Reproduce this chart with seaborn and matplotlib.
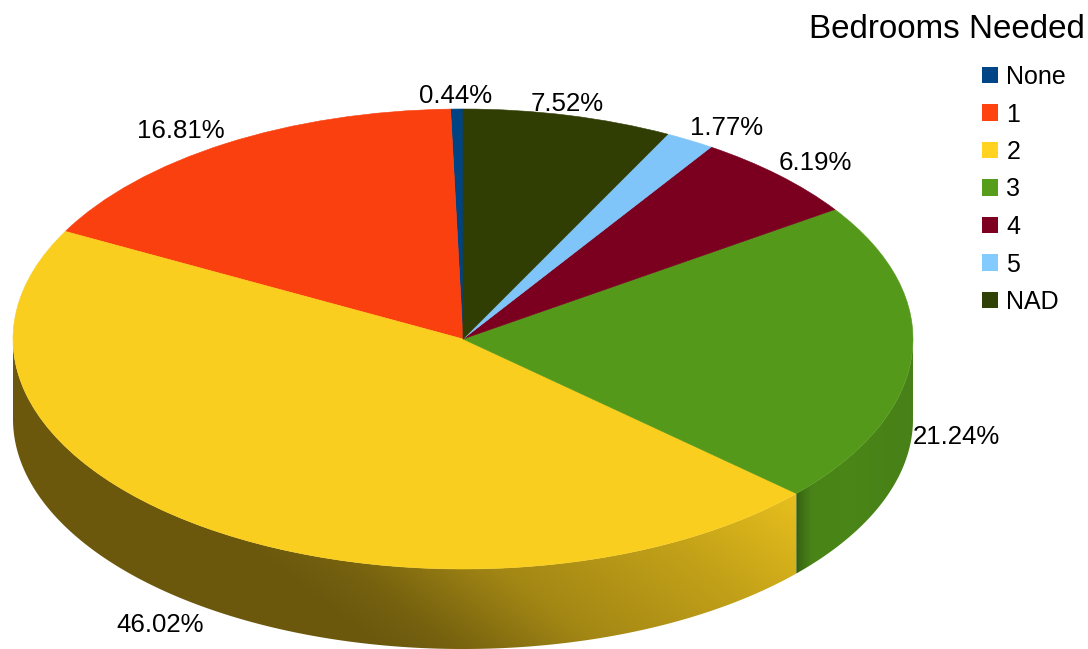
import numpy as np
import matplotlib
matplotlib.use("Agg")
import matplotlib.pyplot as plt
from matplotlib.patches import Patch, Polygon
import seaborn as sns

categories = ["None", "1", "2", "3", "4", "5", "NAD"]
shares = [0.44, 16.81, 46.02, 21.24, 6.19, 1.77, 7.52]
colors = ["#004586", "#ff420e", "#ffd320", "#579d1c", "#7e0021", "#83caff", "#314004"]
title = "Bedrooms Needed"

# pixel layout of the picture
W, H = 1088, 649
cx, cy = 463, 339
rx, ry = 450, 230
depth = 80

# label centres in pixels, same order as categories
label_pos = [(456, 96), (181, 131), (160, 625), (956, 437), (815, 163), (727, 128), (567, 104)]

sns.set_theme(style="white")
plt.rcParams["font.family"] = ["Liberation Sans", "DejaVu Sans"]
palette = sns.color_palette(colors)

fig = plt.figure(figsize=(W / 100, H / 100), dpi=100)
ax = fig.add_axes([0, 0, 1, 1])

top_colors = [tuple(c * 0.975 for c in col) for col in palette]
wedges, _ = ax.pie(shares, colors=top_colors, startangle=90, counterclock=True,
                   radius=1, center=(0, 0))
for w in wedges:
    w.set_edgecolor(w.get_facecolor())
    w.set_linewidth(0.4)
    w.set_zorder(3)

ax.set_aspect("auto")
xlim = (-cx / rx, (W - cx) / rx)
ylim = ((cy - H) / ry, cy / ry)

# pixel grid for the shading of the side wall
px, py = np.meshgrid(np.arange(W) + 0.5, np.arange(H) + 0.5)


def yellow_shade(x, y):
    g = x - 1.3 * (y - 530)
    return np.interp(g, [230, 300, 450, 650, 835], [0.42, 0.46, 0.64, 0.76, 0.90])


def green_shade(x, y):
    return np.interp(x, [796, 800, 812, 850, 913], [0.58, 0.68, 0.84, 0.85, 0.82])


shades = {2: yellow_shade, 3: green_shade}

for i, shade in shades.items():
    t1 = max(wedges[i].theta1, 180)
    t2 = min(wedges[i].theta2, 360)
    ang = np.radians(np.linspace(t1, t2, 300))
    top = np.column_stack([np.cos(ang), np.sin(ang)])
    bottom = top - [0, depth / ry]
    wall = Polygon(np.vstack([top, bottom[::-1]]), closed=True, transform=ax.transData,
                   facecolor="none", edgecolor="none")
    ax.add_patch(wall)
    rgb = np.clip(shade(px, py)[..., None] * np.array(palette[i]), 0, 1)
    im = ax.imshow(rgb, extent=(xlim[0], xlim[1], ylim[0], ylim[1]), origin="upper",
                   aspect="auto", interpolation="bilinear", zorder=2)
    im.set_clip_path(wall)

ax.set_xlim(xlim)
ax.set_ylim(ylim)
ax.axis("off")

for share, (x, y) in zip(shares, label_pos):
    fig.text(x / W, 1 - y / H, f"{share:.2f}%", ha="center", va="center",
             fontsize=18.6, color="black")

fig.text(1085 / W, 1 - 29 / H, title, ha="right", va="center", fontsize=23.9, color="black")

handles = [Patch(facecolor=c, edgecolor="none") for c in palette]
ax.legend(handles, categories, loc="upper left", bbox_to_anchor=(977 / W, 1 - 60 / H),
          bbox_transform=fig.transFigure, frameon=False, fontsize=18, labelcolor="black",
          handlelength=0.64, handleheight=0.64, handletextpad=0.33,
          labelspacing=0.54, borderpad=0.2, borderaxespad=0)

plt.savefig("out.png", dpi=100)
